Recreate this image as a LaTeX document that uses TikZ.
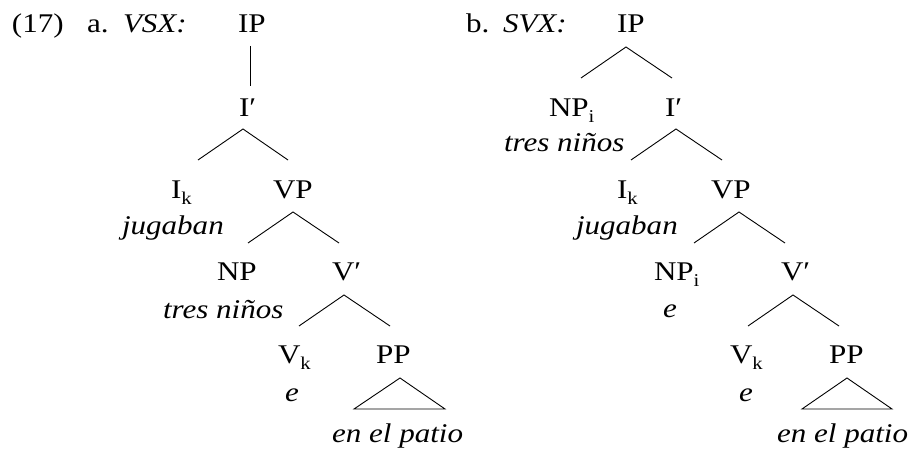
\documentclass[tikz,border=0pt]{standalone}
\usepackage{fontspec}
\setmainfont{Liberation Serif}
\newcommand{\subsc}[1]{\raisebox{-6pt}{\fontsize{18}{18}\selectfont #1}}
\tikzset{
  lab/.style={inner sep=0pt, outer sep=0pt, anchor=base west, font=\fontsize{27}{32}\selectfont, xscale=1.15, transform shape},
  br/.style={line width=0.9pt},
}
\begin{document}
\begin{tikzpicture}[x=1pt,y=-1pt]
\path[use as bounding box] (0,0) rectangle (914,454);
% ---------- tree a ----------
\node[lab] (num) at (12,33) {(17)};
\node[lab] (alab) at (87,33) {a.};
\node[lab] (vsx) at (123,33) {\itshape VSX:};
\node[lab] (aIP) at (238,33) {IP};
\node[lab] (aIb) at (239,117) {I′};
\node[lab] (aIk) at (171,199) {I\subsc{k}};
\node[lab] (aVP) at (273,199) {VP};
\node[lab] (ajug) at (122,235) {\itshape jugaban};
\node[lab] (aNP) at (217,281) {NP};
\node[lab] (aVb) at (332,281) {V′};
\node[lab] (atres) at (163,319) {\itshape tres niños};
\node[lab] (aVk) at (278,364) {V\subsc{k}};
\node[lab] (aPP) at (376,364) {PP};
\node[lab] (ae) at (285,402) {\itshape e};
\node[lab] (apat) at (332,443) {\itshape en el patio};
\coordinate (a1t) at (250,46); \coordinate (a1b) at (250,86);
\coordinate (a2t) at (243,129); \coordinate (a2l) at (198,160); \coordinate (a2r) at (288,160);
\coordinate (a3t) at (293,212); \coordinate (a3l) at (248,243); \coordinate (a3r) at (339,243);
\coordinate (a4t) at (344,295); \coordinate (a4l) at (299,326); \coordinate (a4r) at (390,326);
\coordinate (a5t) at (400,378); \coordinate (a5l) at (354,409); \coordinate (a5r) at (445,409);
\draw[br] (a1t) -- (a1b);
\draw[br] (a2l) -- (a2t) -- (a2r);
\draw[br] (a3l) -- (a3t) -- (a3r);
\draw[br] (a4l) -- (a4t) -- (a4r);
\draw[br] (a5t) -- (a5l) -- (a5r) -- cycle;
% ---------- tree b ----------
\node[lab] (blab) at (466,33) {b.};
\node[lab] (svx) at (503,33) {\itshape SVX:};
\node[lab] (bIP) at (617,33) {IP};
\node[lab] (bNPi) at (549,117) {NP\subsc{i}};
\node[lab] (bIb) at (665,117) {I′};
\node[lab] (btres) at (504,152) {\itshape tres niños};
\node[lab] (bIk) at (617,199) {I\subsc{k}};
\node[lab] (bVP) at (711,199) {VP};
\node[lab] (bjug) at (576,235) {\itshape jugaban};
\node[lab] (bNP) at (654,281) {NP\subsc{i}};
\node[lab] (bVb) at (781,281) {V′};
\node[lab] (be1) at (663,318) {\itshape e};
\node[lab] (bVk) at (730,364) {V\subsc{k}};
\node[lab] (bPP) at (829,364) {PP};
\node[lab] (be2) at (739,402) {\itshape e};
\node[lab] (bpat) at (777,443) {\itshape en el patio};
\coordinate (b1t) at (626,47); \coordinate (b1l) at (581,78); \coordinate (b1r) at (672,78);
\coordinate (b2t) at (676,129); \coordinate (b2l) at (631,160); \coordinate (b2r) at (722,160);
\coordinate (b3t) at (739,212); \coordinate (b3l) at (694,243); \coordinate (b3r) at (785,243);
\coordinate (b4t) at (793,295); \coordinate (b4l) at (748,326); \coordinate (b4r) at (839,326);
\coordinate (b5t) at (847,378); \coordinate (b5l) at (802,409); \coordinate (b5r) at (892,409);
\draw[br] (b1l) -- (b1t) -- (b1r);
\draw[br] (b2l) -- (b2t) -- (b2r);
\draw[br] (b3l) -- (b3t) -- (b3r);
\draw[br] (b4l) -- (b4t) -- (b4r);
\draw[br] (b5t) -- (b5l) -- (b5r) -- cycle;
\end{tikzpicture}
\end{document}
